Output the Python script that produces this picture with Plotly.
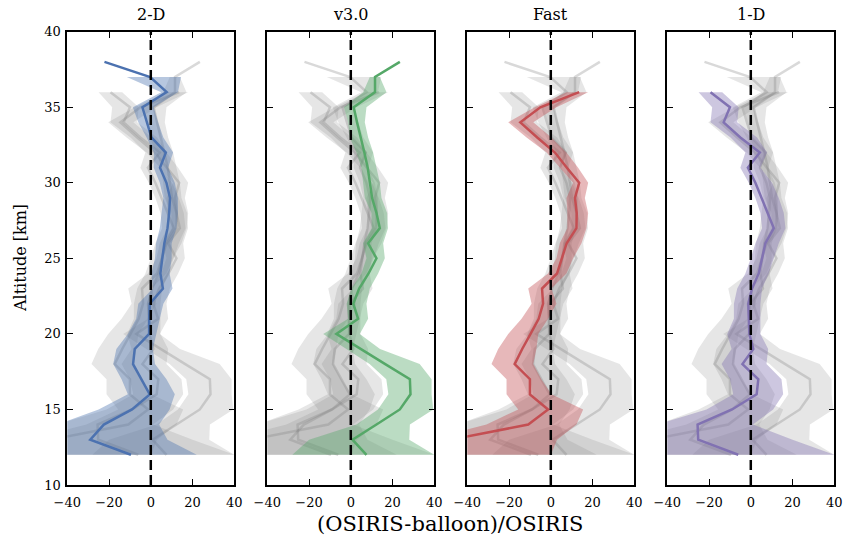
import plotly.graph_objects as go

# Altitude levels (km), bottom to top
altitude = list(range(12, 39))  # 12 .. 38

panel_titles = ["2-D", "v3.0", "Fast", "1-D"]
series_colors = ["#4C72B0", "#55A868", "#C44E52", "#8172B2"]
band_colors = ["rgba(76,114,176,0.40)", "rgba(85,168,104,0.40)",
               "rgba(196,78,82,0.40)", "rgba(129,114,178,0.40)"]

x_ticks = [-40, -20, 0, 20, 40]
y_ticks = [10, 15, 20, 25, 30, 35, 40]

# ---- 2-D (12..38 km) ----
line_2d = [-9.5, -29, -22.5, -9, -0.5, -4.5, -8.5, -7.7, -0.8, -0.8, -0.5, 5.8, 4.6,
           5.5, 6.5, 8, 8.8, 9.2, 7.5, 4.4, 7.2, 0.3, -2, -4, 7.6, -0.3, -22.2]
low_2d = [-45, -45, -45, -25, -11, -14, -18, -16.5, -11, -7, -6, 1, 0.3,
          2, 2.5, 4.3, 5, 6, 4.3, 1.4, 1.5, -2, -6, -8.6, 5, -11.5, None]
high_2d = [22, 8, 4, 9, 11.5, 7.5, 2, 1, 2.7, 4.3, 6, 10.4, 9,
           10, 10, 12.3, 13, 13, 11.5, 8.3, 10.7, 6, 3.5, 1.4, 13, 14.5, None]

# ---- v3.0 (12..38 km) ----
line_v3 = [7.5, 0.8, 12.3, 23.5, 28.6, 28.3, 16.5, 5, -6.9, 3.5, 1.2, 4, 8.5,
           12.3, 8.3, 13.9, 12.3, 10.2, 9.1, 8.1, 6.5, 4.6, 3, 1.4, 11.6, 11.6, 23.5]
low_v3 = [-28, -20, 2.7, 13, 18, 17, 9, -2, -13.2, -1.3, -2, 0.3, 5.1,
          7.5, 5.9, 10, 9.9, 6.7, 5.9, 5.1, 2.7, -0.5, -1.3, -3.3, 5.9, 9.1, None]
high_v3 = [40, 28, 28.3, 39.5, 38.7, 38.7, 33, 14, 4.3, 8.3, 7.5, 9.1, 13.1,
           16.3, 15.5, 17.8, 17.4, 14.7, 13.9, 12.3, 10.7, 8.3, 6.7, 7.5, 17.1, 13.9, None]

# ---- Fast (12..36 km) ----
line_fast = [-55, -48, -10.8, -1.3, -10, -10, -17.3, -13.7, -9.7, -5.8, -3.7, -4.2, 3,
             5.4, 7.6, 12.3, 12.4, 11.6, 13.6, 7.7, 2, -6.5, -14.6, -5, 13.6, None, None]
low_fast = [-60, -60, -30.8, -15.6, -21.2, -21.2, -28.4, -25.2, -20.4, -14, -9.2, -10.8, -1.3,
            2.7, 4.3, 7.9, 7.9, 7.5, 10.7, 4.3, -2, -11.6, -20.4, -7.7, 7.5, None, None]
high_fast = [0, 3, 12.3, 15.5, 0.3, -4.5, -8.4, -6.9, -6, -1.3, 2.7, 0.3, 7.5,
             10.7, 14.7, 17.1, 17.9, 16.3, 17.9, 13.1, 7.5, 0.3, -8.4, 2.7, 17.9, None, None]

# ---- 1-D (12..36 km) ----
line_1d = [-6, -25.2, -25.5, -9, 2.8, 3.6, -4, 1.2, -0.7, -1, -1.2, 0.6, 3.8,
           5.4, 7, 11, 8.1, 5.4, 2.2, -1.4, 4.3, -5, -13, -10, -19.3, None, None]
low_1d = [-45, -45, -45, -21.2, -8.4, -10, -14, -9.2, -11.3, -8.1, -8.1, -6.5, -2.6,
          0, 2.2, 5.4, 4.6, 2.2, -1, -5, -2.6, -9.7, -19.3, -18.5, -25, None, None]
high_1d = [40, 20, 1, 10.7, 15.5, 14.7, 7.5, 8.3, 4.6, 4.6, 4.6, 5.4, 8.6,
           11, 13.4, 16.6, 15.8, 13.4, 10.2, 4.6, 7.8, 3, -6.5, -5.8, -13.7, None, None]

lines = [line_2d, line_v3, line_fast, line_1d]
lows = [low_2d, low_v3, low_fast, low_1d]
highs = [high_2d, high_v3, high_fast, high_1d]

GREY_BAND = "rgba(128,128,128,0.20)"
GREY_LINE = "rgba(128,128,128,0.30)"

W, H = 844, 536
panel_left = [67.3, 267.3, 467.3, 667.3]
panel_w = 167.0
top_px, bot_px = 31.7, 485.0

fig = go.Figure()


def valid(xs, ys):
    pts = [(x, y) for x, y in zip(xs, ys) if x is not None]
    return [p[0] for p in pts], [p[1] for p in pts]


def band_trace(j, color, ax):
    lo_x, lo_y = valid(lows[j], altitude)
    hi_x, hi_y = valid(highs[j], altitude)
    return go.Scatter(x=lo_x + hi_x[::-1], y=lo_y + hi_y[::-1], fill="toself",
                      fillcolor=color, line=dict(width=0), mode="lines",
                      hoverinfo="skip", xaxis=ax[0], yaxis=ax[1])


def line_trace(j, color, ax):
    lx, ly = valid(lines[j], altitude)
    return go.Scatter(x=lx, y=ly, mode="lines", line=dict(color=color, width=2.5),
                      hoverinfo="skip", xaxis=ax[0], yaxis=ax[1])


FONT = "DejaVu Serif"

for i in range(4):
    sfx = "" if i == 0 else str(i + 1)
    ax = ("x" + sfx, "y" + sfx)
    others = [j for j in range(4) if j != i]
    for j in others:
        fig.add_trace(band_trace(j, GREY_BAND, ax))
    for j in others:
        fig.add_trace(line_trace(j, GREY_LINE, ax))
    fig.add_trace(band_trace(i, band_colors[i], ax))
    fig.add_trace(line_trace(i, series_colors[i], ax))

    x0 = panel_left[i] / W
    x1 = (panel_left[i] + panel_w) / W
    ydom = [1 - bot_px / H, 1 - top_px / H]
    fig.layout["xaxis" + sfx] = dict(
        domain=[x0, x1], range=[-40, 40], tickvals=x_ticks, ticks="inside",
        ticklen=6, tickwidth=1.2, tickcolor="black", showline=True, linecolor="black",
        linewidth=1.6, mirror="ticks", showgrid=False, zeroline=False, automargin=False,
        anchor="y" + sfx, ticklabelstandoff=5,
        tickfont=dict(family=FONT, size=13, color="black"))
    fig.layout["yaxis" + sfx] = dict(
        domain=ydom, range=[10, 40], tickvals=y_ticks, ticks="inside",
        ticklen=6, tickwidth=1.2, tickcolor="black", showline=True, linecolor="black",
        linewidth=1.6, mirror="ticks", showgrid=False, zeroline=False, automargin=False,
        anchor="x" + sfx, showticklabels=(i == 0), ticklabelstandoff=2,
        tickfont=dict(family=FONT, size=13, color="black"))
    fig.add_shape(type="line", xref="x" + sfx, yref="y" + sfx + " domain",
                  x0=0, x1=0, y0=0, y1=1,
                  line=dict(color="black", width=2.5, dash="10px,5px"))
    fig.add_annotation(text=panel_titles[i], x=(x0 + x1) / 2, y=1 - 14 / H,
                       xref="paper", yref="paper", showarrow=False,
                       xanchor="center", yanchor="middle",
                       font=dict(family=FONT, size=16, color="black"))

fig.add_annotation(text="Altitude [km]", x=20 / W, y=1 - 258 / H, xref="paper",
                   yref="paper", showarrow=False, textangle=-90,
                   xanchor="center", yanchor="middle",
                   font=dict(family=FONT, size=16, color="black"))
fig.add_annotation(text="(OSIRIS-balloon)/OSIRIS", x=450 / W, y=1 - 524 / H,
                   xref="paper", yref="paper", showarrow=False,
                   xanchor="center", yanchor="middle",
                   font=dict(family=FONT, size=21, color="black"))

fig.update_layout(width=W, height=H, margin=dict(l=0, r=0, t=0, b=0),
                  plot_bgcolor="white", paper_bgcolor="white", showlegend=False)

fig.write_html("out.html", config={"displayModeBar": False},
               post_script="document.body.style.margin='0';")
